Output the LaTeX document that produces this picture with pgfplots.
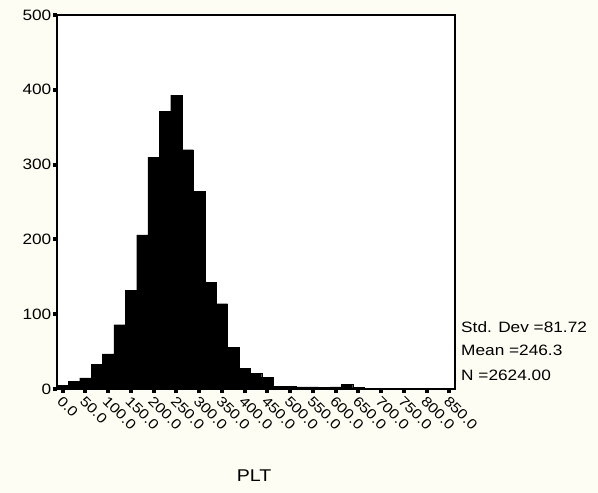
\documentclass[border=0pt]{standalone}
\usepackage{fontspec}
\setmainfont{Liberation Sans}[FakeStretch=1.15]
\usepackage{pgfplots}
\pgfplotsset{compat=1.18}
\definecolor{paper}{RGB}{254,253,243}
\begin{document}
\begin{tikzpicture}
\fill[paper] (-57pt,-104pt) rectangle (541pt,389pt);
\begin{axis}[
  at={(0,0)}, anchor=south west,
  scale only axis, width=398pt, height=374pt,
  xmin=-12.5, xmax=862.5, ymin=0, ymax=500,
  clip=false,
  axis background/.style={fill=white},
  axis line style={line width=1.1pt},
  ybar, bar width=25,
  xtick={0,50,...,850},
  ytick={0,100,...,500},
  xtick pos=bottom, ytick pos=left,
  tick align=outside,
  major tick length=4pt,
  tick style={line width=4pt, black},
  /pgf/number format/assume math mode=true,
  xticklabel style={/pgf/number format/.cd, fixed, fixed zerofill, precision=1, 1000 sep={}, /tikz/.cd,
    rotate=-45, anchor=north west, font=\fontsize{14}{14}\selectfont, inner sep=1pt, xshift=1pt},
  yticklabel style={/pgf/number format/.cd, fixed, 1000 sep={}, /tikz/.cd,
    font=\fontsize{15}{15}\selectfont, inner sep=1.5pt},
  xlabel={PLT},
  every axis x label/.style={at={(axis description cs:0.495,0)}, anchor=center, yshift=-87pt, font=\fontsize{17}{17}\selectfont},
]
\addplot[fill=black, draw=black, line width=0.2pt] coordinates {
(0,5) (25,10) (50,15) (75,33) (100,47) (125,86) (150,132) (175,206)
(200,310) (225,371) (250,393) (275,320) (300,264) (325,143) (350,114)
(375,56) (400,28) (425,21) (450,16) (475,4) (500,4) (525,3) (550,3)
(575,2) (600,3) (625,6) (650,2) (675,1) (700,0) (725,0) (750,0)
(775,0) (800,0) (825,0) (850,1)
};
\node[anchor=base west, font=\fontsize{15}{15}\selectfont, inner sep=0pt] at (rel axis cs:1,0) [xshift=6pt, yshift=57pt] {Std. Dev =81.72};
\node[anchor=base west, font=\fontsize{15}{15}\selectfont, inner sep=0pt] at (rel axis cs:1,0) [xshift=6pt, yshift=34pt] {Mean =246.3};
\node[anchor=base west, font=\fontsize{15}{15}\selectfont, inner sep=0pt] at (rel axis cs:1,0) [xshift=6pt, yshift=9pt] {N =2624.00};
\end{axis}
\pgfresetboundingbox
\path (-57pt,-104pt) rectangle (541pt,389pt);
\end{tikzpicture}
\end{document}
